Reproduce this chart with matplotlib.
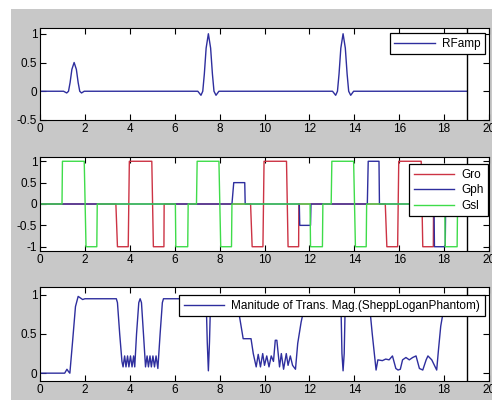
import matplotlib
matplotlib.use('Agg')
import matplotlib.pyplot as plt
from matplotlib.patches import Rectangle

# RF pulse samples (time, amplitude)
rf_t = [0, 1.05, 1.19, 1.27, 1.34, 1.42, 1.52, 1.62, 1.70, 1.77, 1.85, 1.97,
        7.03, 7.17, 7.25, 7.32, 7.40, 7.50, 7.60, 7.68, 7.75, 7.84, 7.97,
        13.03, 13.17, 13.25, 13.32, 13.40, 13.50, 13.60, 13.68, 13.75, 13.84, 13.97,
        19]
rf_amp = [0, 0, -0.03, 0.0, 0.15, 0.38, 0.5, 0.38, 0.15, 0.0, -0.03, 0,
          0, -0.07, 0.0, 0.3, 0.75, 1.0, 0.75, 0.3, 0.0, -0.07, 0,
          0, -0.07, 0.0, 0.3, 0.75, 1.0, 0.75, 0.3, 0.0, -0.07, 0,
          0]

# gradient waveforms (breakpoints)
gro_t = [0, 3.38, 3.45, 3.93, 3.98, 4.98, 5.05, 5.52, 5.53,
         9.38, 9.45, 9.93, 9.98, 10.98, 11.05, 11.52, 11.53,
         15.38, 15.45, 15.93, 15.98, 16.98, 17.05, 17.52, 17.53, 19]
gro = [0, 0, -1, -1, 1, 1, -1, -1, 0,
       0, -1, -1, 1, 1, -1, -1, 0,
       0, -1, -1, 1, 1, -1, -1, 0, 0]

gph_t = [0, 8.55, 8.63, 9.12, 9.14, 11.55, 11.57, 12.05, 12.07,
         14.58, 14.62, 15.1, 15.12, 17.55, 17.57, 18.05, 18.07, 19]
gph = [0, 0, 0.5, 0.5, 0, 0, -0.5, -0.5, 0,
       0, 1, 1, 0, 0, -1, -1, 0, 0]

gsl_t = [0, 0.98, 1.0, 1.97, 2.05, 2.53, 2.55,
         6.03, 6.05, 6.58, 6.6, 6.97, 7.0, 7.97, 8.05, 8.53, 8.55,
         12.03, 12.05, 12.58, 12.6, 12.97, 13.0, 13.97, 14.05, 14.53, 14.55,
         18.03, 18.05, 18.58, 18.6, 19]
gsl = [0, 0, 1, 1, -1, -1, 0,
       0, -1, -1, 0, 0, 1, 1, -1, -1, 0,
       0, -1, -1, 0, 0, 1, 1, -1, -1, 0,
       0, -1, -1, 0, 0]

# magnitude of transverse magnetisation
mag_t = [0, 1.1, 1.2, 1.27, 1.33, 1.45, 1.58, 1.7, 1.8, 1.9, 2.0, 3.4,
         3.45, 3.55, 3.65, 3.7, 3.77, 3.83, 3.9, 3.96, 4.03, 4.1, 4.17, 4.22,
         4.3, 4.4, 4.46, 4.52, 4.62, 4.7, 4.77, 4.83, 4.9, 4.96, 5.03, 5.1,
         5.17, 5.25, 5.35, 5.45, 5.5, 7.4, 7.45, 7.5, 7.55, 7.6, 8.75, 8.9,
         9.05, 9.4, 9.5, 9.63, 9.72, 9.82, 9.92, 10.0, 10.1, 10.2, 10.3, 10.4,
         10.48, 10.55, 10.67, 10.75, 10.85, 10.97, 11.05, 11.15, 11.25, 11.38,
         11.48, 11.63, 11.78, 11.9, 13.4, 13.45, 13.5, 13.55, 13.6, 14.65,
         14.72, 14.8, 14.97, 15.05, 15.25, 15.4, 15.55, 15.7, 15.85, 15.95,
         16.05, 16.15, 16.3, 16.45, 16.6, 16.75, 16.9, 17.05, 17.2, 17.28,
         17.45, 17.67, 17.75, 17.85, 17.97, 18.05, 19]
mag = [0, 0, 0.05, 0.02, 0.0, 0.4, 0.85, 0.98, 0.96, 0.94, 0.95, 0.95,
       0.9, 0.5, 0.15, 0.08, 0.22, 0.08, 0.22, 0.08, 0.22, 0.08, 0.22, 0.08,
       0.5, 0.9, 0.95, 0.9, 0.45, 0.08, 0.22, 0.08, 0.22, 0.08, 0.22, 0.08,
       0.22, 0.06, 0.5, 0.9, 0.95, 0.95, 0.4, 0.03, 0.4, 0.95, 0.95, 0.7,
       0.44, 0.44, 0.25, 0.08, 0.24, 0.08, 0.25, 0.1, 0.22, 0.08, 0.22, 0.15,
       0.42, 0.42, 0.08, 0.25, 0.05, 0.25, 0.1, 0.22, 0.1, 0.05,
       0.38, 0.65, 0.85, 0.95, 0.95, 0.25, 0.03, 0.25, 0.95, 0.95,
       0.74, 0.5, 0.04, 0.17, 0.16, 0.18, 0.17, 0.22, 0.06, 0.04,
       0.05, 0.17, 0.2, 0.17, 0.2, 0.22, 0.06, 0.04, 0.17, 0.22,
       0.17, 0.04, 0.3, 0.6, 0.8, 0.95, 0.95]

xticks = [0, 2, 4, 6, 8, 10, 12, 14, 16, 18, 20]
t_end = 19

BLUE = '#2e2e9e'
RED = '#cc3344'
GREEN = '#3fdc4a'


def style_axes(ax, ylim, yticks, ylabels):
    ax.set_facecolor('white')
    ax.set_xlim(0, 20)
    ax.set_ylim(*ylim)
    ax.set_xticks(xticks)
    ax.set_xticklabels([str(x) for x in xticks])
    ax.set_yticks(yticks)
    ax.set_yticklabels(ylabels)
    ax.tick_params(direction='in', top=True, right=True, length=4, width=0.8,
                   labelsize=8.5, pad=2)
    for s in ax.spines.values():
        s.set_color('black')
        s.set_linewidth(0.8)
    # end-of-sequence marker
    ax.axvline(t_end, color='black', lw=1.0)


def add_legend(ax, x, y):
    leg = ax.legend(loc='upper right', bbox_to_anchor=(x, y), borderaxespad=0,
                    fancybox=False, framealpha=1, edgecolor='black',
                    fontsize=8.5, handlelength=3.4, borderpad=0.4,
                    labelspacing=0.3, handletextpad=0.6)
    leg.get_frame().set_linewidth(0.9)
    return leg


def main():
    plt.rcParams['font.family'] = ['Liberation Sans Narrow', 'Liberation Sans', 'DejaVu Sans']
    fig = plt.figure(figsize=(4.92, 4.00), dpi=100, facecolor='white')
    # gray figure area with white border at top/left
    fig.patches.append(Rectangle((11 / 492, 0), 1, 1 - 9 / 400, transform=fig.transFigure,
                                 facecolor='#c8c8c8', edgecolor='none', zorder=-10))

    left, width = 40 / 492, 449 / 492
    ax1 = fig.add_axes([left, 1 - 120 / 400, width, 92 / 400])
    ax2 = fig.add_axes([left, 1 - 251 / 400, width, 94 / 400])
    ax3 = fig.add_axes([left, 1 - 381 / 400, width, 94 / 400])

    ax1.plot(rf_t, rf_amp, color=BLUE, lw=1.0, label='RFamp')
    style_axes(ax1, (-0.5, 1.1), [-0.5, 0, 0.5, 1], ['-0.5', '0', '0.5', '1'])
    add_legend(ax1, 0.991, 0.946)

    ax2.plot(gro_t, gro, color=RED, lw=1.0, label='Gro')
    ax2.plot(gph_t, gph, color=BLUE, lw=1.0, label='Gph')
    ax2.plot(gsl_t, gsl, color=GREEN, lw=1.0, label='Gsl')
    style_axes(ax2, (-1.1, 1.1), [-1, -0.5, 0, 0.5, 1], ['-1', '-0.5', '0', '0.5', '1'])
    add_legend(ax2, 0.998, 0.926)

    ax3.plot(mag_t, mag, color=BLUE, lw=1.0,
             label='Manitude of Trans. Mag.(SheppLoganPhantom)')
    style_axes(ax3, (-0.1, 1.1), [0, 0.5, 1], ['0', '0.5', '1'])
    add_legend(ax3, 0.991, 0.915)

    fig.savefig('out.png', dpi=100, facecolor=fig.get_facecolor())
    plt.close()


if __name__ == '__main__':
    main()
